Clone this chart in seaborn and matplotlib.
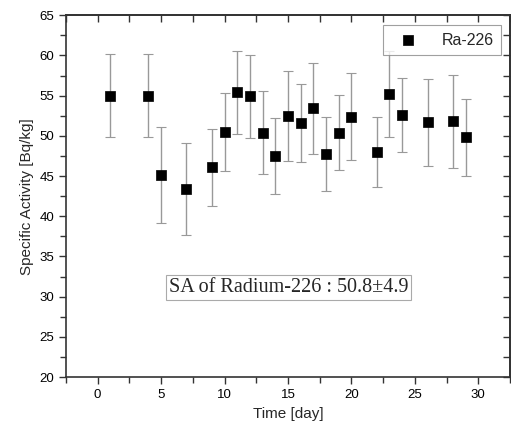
import matplotlib
matplotlib.use("Agg")
import matplotlib.pyplot as plt
import seaborn as sns
import pandas as pd
import numpy as np
from matplotlib.ticker import MultipleLocator

# Ra-226 specific activity readings
days = [1, 4, 5, 7, 9, 10, 11, 12, 13, 14, 15, 16, 17, 18, 19, 20, 22, 23, 24, 26, 28, 29]
activity = [55.0, 55.0, 45.1, 43.4, 46.1, 50.5, 55.4, 54.9, 50.4, 47.5, 52.5,
            51.6, 53.4, 47.8, 50.4, 52.4, 48.0, 55.2, 52.6, 51.7, 51.8, 49.8]
errors = [5.2, 5.2, 5.95, 5.7, 4.8, 4.85, 5.15, 5.2, 5.2, 4.7, 5.6,
          4.85, 5.65, 4.6, 4.7, 5.45, 4.35, 5.3, 4.6, 5.4, 5.8, 4.75]
series_name = "Ra-226"
summary_text = "SA of Radium-226 : 50.8\u00b14.9"

df = pd.DataFrame({"Time": days, "Activity": activity, "Err": errors})

sns.set_theme(style="ticks")
plt.rcParams["font.family"] = ["Liberation Sans", "DejaVu Sans"]

fig = plt.figure(figsize=(5.11, 4.34), dpi=100)
ax = fig.add_axes([0.129, 0.131, 0.869, 0.834])

ax.errorbar(df["Time"], df["Activity"], yerr=df["Err"], fmt="none",
            ecolor="#999999", elinewidth=1.0, capsize=3.5, capthick=0.8, zorder=1)
sns.scatterplot(data=df, x="Time", y="Activity", marker="s", s=48,
                color="black", edgecolor="black", linewidth=0.5,
                label=series_name, ax=ax, zorder=3)

ax.set_xlim(-2.5, 32.5)
ax.set_ylim(20, 65)
ax.xaxis.set_major_locator(MultipleLocator(5))
ax.xaxis.set_minor_locator(MultipleLocator(2.5))
ax.yaxis.set_major_locator(MultipleLocator(5))
ax.yaxis.set_minor_locator(MultipleLocator(2.5))
ax.tick_params(which="both", direction="out", top=False, right=False,
               labelsize=9.5, colors="#333333", labelcolor="black")
ax.tick_params(which="major", length=5, width=1)
ax.tick_params(which="minor", length=4, width=1)

# mirrored inward ticks on top and right
secx = ax.secondary_xaxis("top")
secx.xaxis.set_major_locator(MultipleLocator(5))
secx.xaxis.set_minor_locator(MultipleLocator(2.5))
secx.tick_params(which="both", direction="in", labeltop=False, length=5, width=1, colors="#333333")
secx.set_xticklabels([])
secy = ax.secondary_yaxis("right")
secy.yaxis.set_major_locator(MultipleLocator(5))
secy.yaxis.set_minor_locator(MultipleLocator(2.5))
secy.tick_params(which="both", direction="in", labelright=False, length=5, width=1, colors="#333333")
secy.set_yticklabels([])

for sp in ax.spines.values():
    sp.set_color("#333333")
    sp.set_linewidth(1.2)

ax.set_xlabel("Time [day]", fontsize=11)
ax.set_ylabel("Specific Activity [Bq/kg]", fontsize=11)

leg = ax.legend(loc="upper right", fontsize=11.5, frameon=True, fancybox=False,
                edgecolor="#888888", borderpad=0.45, handletextpad=1.0, handlelength=2.2,
                borderaxespad=0, bbox_to_anchor=(0.98, 0.972))
leg.get_frame().set_linewidth(0.8)

ax.text(15.05, 31.1, summary_text, ha="center", va="center", fontsize=14.5,
        family=["Liberation Serif", "DejaVu Serif"],
        bbox=dict(boxstyle="square,pad=0.15", facecolor="white", edgecolor="#aaaaaa", linewidth=0.8))

fig.savefig("out.png", dpi=100)
